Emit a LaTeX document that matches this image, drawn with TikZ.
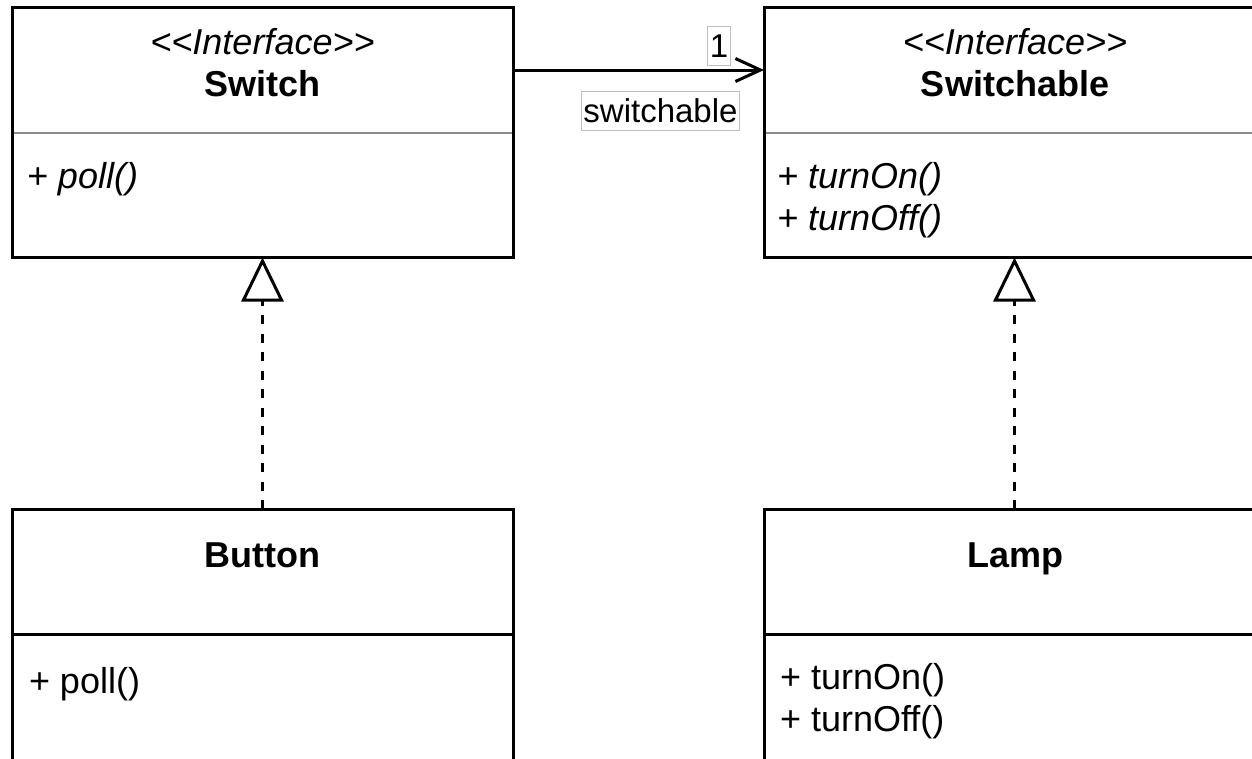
\documentclass[tikz,border=0pt]{standalone}
\usepackage{fontspec}
\setmainfont{Liberation Sans}
\usetikzlibrary{arrows.meta}
\begin{document}
\begin{tikzpicture}[x=1pt,y=-1pt,
  classbox/.style={draw=black, line width=3pt, fill=white, anchor=north west,
    minimum width=501pt, minimum height=250pt, inner sep=0pt, outer sep=0pt},
  ifsep/.style={draw=black!45, line width=2pt, shorten >=1.5pt, shorten <=1.5pt},
  clsep/.style={draw=black, line width=3pt},
  txt/.style={inner sep=0pt, outer sep=0pt, font=\fontsize{36}{41}\selectfont},
  stereo/.style={txt, anchor=base, font=\fontsize{36}{41}\selectfont\itshape},
  clsname/.style={txt, anchor=base, font=\fontsize{36}{41}\selectfont\bfseries},
  member/.style={txt, anchor=base west},
  absmember/.style={member, font=\fontsize{36}{41}\selectfont\itshape},
  rolelabel/.style={draw=black!25, line width=1pt, fill=white, inner xsep=2pt,
    inner ysep=0pt, minimum height=39pt, font=\fontsize{33}{38}\selectfont},
  assoc/.style={line width=3pt, -{Straight Barb[length=25pt, width=23pt, line width=3pt]}},
  realize/.style={line width=2.5pt, dash pattern=on 9pt off 9.5pt,
    -{Triangle[open, length=44pt, width=42pt, line width=3pt]}}
]
\fill[white] (0,0) rectangle (1252,758);
\useasboundingbox (0,0) rectangle (1252,758);
\clip (0,0) rectangle (1252,758);

% class boxes
\node[classbox] (sw) at (12,7.5) {};
\node[classbox] (swa) at (764,7.5) {};
\node[classbox, minimum height=262pt] (btn) at (12,509) {};
\node[classbox, minimum height=262pt] (lamp) at (764,509) {};

% compartment separators
\draw[ifsep] ([yshift=-125pt]sw.north west) -- ([yshift=-125pt]sw.north east);
\draw[ifsep] ([yshift=-125pt]swa.north west) -- ([yshift=-125pt]swa.north east);
\draw[clsep] ([yshift=-125pt]btn.north west) -- ([yshift=-125pt]btn.north east);
\draw[clsep] ([yshift=-125pt]lamp.north west) -- ([yshift=-125pt]lamp.north east);

% Switch
\node[stereo] (swst) at (262.5,54) {<\kern0pt<Interface>\kern0pt>};
\node[clsname] (swname) at (262.5,96) {Switch};
\node[absmember] (swpoll) at (27,188) {+ poll()};

% Switchable
\node[stereo] (swast) at (1015,54) {<\kern0pt<Interface>\kern0pt>};
\node[clsname] (swaname) at (1015,96) {Switchable};
\node[absmember] (swaon) at (777,188) {+ turnOn()};
\node[absmember] (swaoff) at (777,230) {+ turnOff()};

% Button
\node[clsname] (btnname) at (262.5,567) {Button};
\node[member] (btnpoll) at (29,693) {+ poll()};

% Lamp
\node[clsname] (lampname) at (1015,567) {Lamp};
\node[member] (lampon) at (780,689) {+ turnOn()};
\node[member] (lampoff) at (780,731) {+ turnOff()};

% association Switch -> Switchable
\draw[assoc] ([yshift=-62.5pt]sw.north east) -- ([yshift=-62.5pt]swa.north west);
\node[rolelabel] (mult) at (719,46) {1};
\node[rolelabel] (role) at (660.5,111) {switchable};

% realizations
\draw[realize] (btn.north) -- (sw.south);
\draw[realize] (lamp.north) -- (swa.south);
\end{tikzpicture}
\end{document}
